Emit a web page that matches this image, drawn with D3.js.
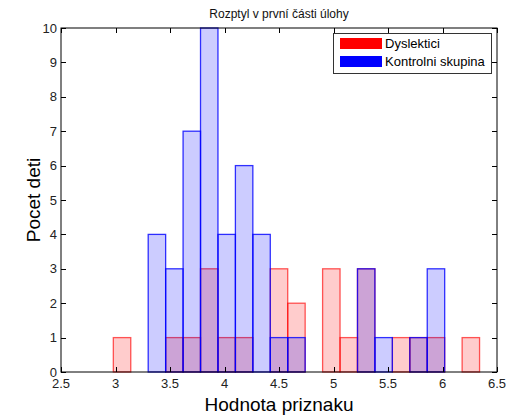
<!DOCTYPE html>
<html>
<head>
<meta charset="utf-8">
<script src="https://cdn.jsdelivr.net/npm/d3@7"></script>
<style>
  html, body { margin: 0; padding: 0; background: #fff; }
  svg { display: block; font-family: "Liberation Sans", Arial, Helvetica, sans-serif; }
</style>
</head>
<body>
<svg id="chart" width="513" height="419"></svg>
<script>
// Histogram bins (centres) shared by both groups
const binCenters = [3.06, 3.22, 3.38, 3.54, 3.70, 3.86, 4.02, 4.18, 4.34, 4.50, 4.66,
                    4.82, 4.98, 5.14, 5.30, 5.46, 5.62, 5.78, 5.94, 6.10, 6.26];
const binWidth = 0.16;

// Counts per bin
const dyslektici = [1, 0, 0, 1, 1, 3, 1, 1, 0, 3, 2, 0, 3, 1, 3, 0, 1, 1, 1, 0, 1];
const kontrolni  = [0, 0, 4, 3, 7, 10, 4, 6, 4, 1, 1, 0, 0, 0, 3, 1, 0, 1, 3, 0, 0];

const seriesNames = ["Dyslektici", "Kontrolni skupina"];
const xTicks = [2.5, 3, 3.5, 4, 4.5, 5, 5.5, 6, 6.5];
const yTicks = [0, 1, 2, 3, 4, 5, 6, 7, 8, 9, 10];

const title = "Rozptyl v první části úlohy";
const xLabel = "Hodnota priznaku";
const yLabel = "Pocet deti";

const svg = d3.select("#chart");
const m = { left: 61, right: 497, top: 28, bottom: 372 };

const x = d3.scaleLinear().domain([2.5, 6.5]).range([m.left, m.right]);
const y = d3.scaleLinear().domain([0, 10]).range([m.bottom, m.top]);

// Bars: red group underneath, blue group on top, both translucent
function drawBars(counts, fill, stroke, strokeOpacity) {
  const data = binCenters.map((c, i) => ({ c, v: counts[i] })).filter(d => d.v > 0);
  svg.append("g").selectAll("rect").data(data).join("rect")
    .attr("x", d => x(d.c - binWidth / 2))
    .attr("width", d => x(d.c + binWidth / 2) - x(d.c - binWidth / 2))
    .attr("y", d => y(d.v))
    .attr("height", d => y(0) - y(d.v))
    .attr("fill", fill)
    .attr("fill-opacity", 0.2)
    .attr("stroke", stroke)
    .attr("stroke-opacity", strokeOpacity)
    .attr("stroke-width", 1.3);
}
drawBars(dyslektici, "#ff0000", "#ff0000", 0.65);
drawBars(kontrolni, "#0000ff", "#0000ff", 0.8);

// Axes box
svg.append("rect")
  .attr("x", m.left).attr("y", m.top)
  .attr("width", m.right - m.left).attr("height", m.bottom - m.top)
  .attr("fill", "none").attr("stroke", "#000").attr("stroke-width", 1);

const tickLen = 5;
// x ticks (bottom and top, pointing inward)
const xt = svg.append("g").attr("stroke", "#000").attr("stroke-width", 1);
xTicks.forEach(t => {
  const px = Math.round(x(t)) + 0.5;
  xt.append("line").attr("x1", px).attr("x2", px).attr("y1", m.bottom).attr("y2", m.bottom - tickLen);
  xt.append("line").attr("x1", px).attr("x2", px).attr("y1", m.top).attr("y2", m.top + tickLen);
});
// y ticks (left and right)
yTicks.forEach(t => {
  const py = Math.round(y(t)) + 0.5;
  xt.append("line").attr("x1", m.left).attr("x2", m.left + tickLen).attr("y1", py).attr("y2", py);
  xt.append("line").attr("x1", m.right).attr("x2", m.right - tickLen).attr("y1", py).attr("y2", py);
});

// Tick labels
svg.append("g").selectAll("text").data(xTicks).join("text")
  .attr("x", d => x(d)).attr("y", m.bottom + 16)
  .attr("text-anchor", "middle")
  .attr("font-size", 13).attr("fill", "#222")
  .text(d => String(d));
svg.append("g").selectAll("text").data(yTicks).join("text")
  .attr("x", m.left - 4).attr("y", d => y(d) + 4.5)
  .attr("text-anchor", "end")
  .attr("font-size", 13).attr("fill", "#222")
  .text(d => String(d));

// Title and axis labels
svg.append("text")
  .attr("x", (m.left + m.right) / 2).attr("y", 18)
  .attr("text-anchor", "middle").attr("font-size", 12).attr("fill", "#111")
  .text(title);
svg.append("text")
  .attr("x", (m.left + m.right) / 2).attr("y", 411)
  .attr("text-anchor", "middle").attr("font-size", 19).attr("fill", "#000")
  .text(xLabel);
svg.append("text")
  .attr("transform", `translate(40,${(m.top + m.bottom) / 2}) rotate(-90)`)
  .attr("text-anchor", "middle").attr("font-size", 19).attr("fill", "#000")
  .text(yLabel);

// Legend
const lg = svg.append("g");
lg.append("rect").attr("x", 333.5).attr("y", 33.5).attr("width", 158).attr("height", 40)
  .attr("fill", "#fff").attr("stroke", "#333").attr("stroke-width", 1);
const legendColors = ["#ff0000", "#0000ff"];
seriesNames.forEach((name, i) => {
  const yy = 38 + i * 18;
  lg.append("rect").attr("x", 340).attr("y", yy).attr("width", 42).attr("height", 11)
    .attr("fill", legendColors[i]);
  lg.append("text").attr("x", 385).attr("y", yy + 10)
    .attr("font-size", 13).attr("fill", "#000").text(name);
});
</script>
</body>
</html>
